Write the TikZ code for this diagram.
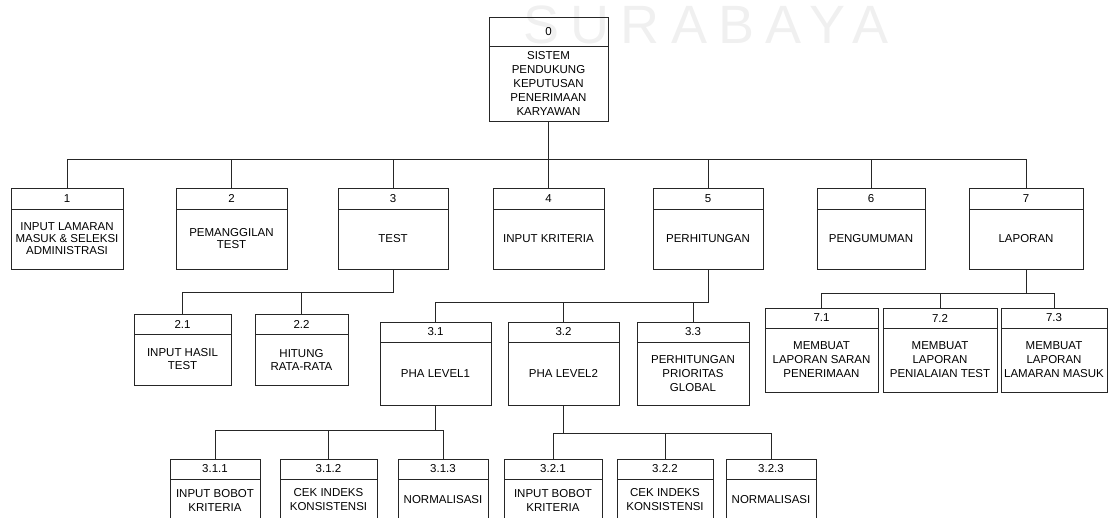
\documentclass[tikz,border=0pt]{standalone}
\usepackage{fontspec}
\setmainfont{Liberation Sans}
\usetikzlibrary{positioning}

\begin{document}
\begin{tikzpicture}[x=1pt,y=-1pt]

% --- Gaya ---
\tikzset{
    headBox/.style={
        draw=black!85,
        line width=0.9pt,
        minimum height=20pt,
        inner xsep=2pt,
        inner ysep=0pt,
        outer sep=0pt,
        font=\fontsize{11.5}{13}\selectfont
    },
    bodyBox/.style={
        headBox,
        align=center,
        font=\fontsize{11.5}{14}\selectfont
    },
    tightText/.style={
        font=\fontsize{11.5}{12}\selectfont
    },
    treeLink/.style={
        draw=black!85,
        line width=0.9pt
    },
    watermarkText/.style={
        anchor=base west,
        inner sep=0pt,
        text=gray!12,
        font=\fontsize{54}{54}\selectfont\addfontfeature{LetterSpace=21}
    }
}

\useasboundingbox (0,0) rectangle (1109,517);
\clip (0,0) rectangle (1109,517);

% Tanda air
\node[watermarkText] (wm) at (523,43) {SURABAYA};

% =========================================================
% Level 0
% =========================================================

\node[headBox, minimum width=119pt, minimum height=29pt] (h0) at (548.5,31.5) {0};
\node[bodyBox, minimum width=119pt, minimum height=75pt, below=0pt of h0,
      font=\fontsize{11.5}{14}\selectfont] (b0)
      {SISTEM\\PENDUKUNG\\KEPUTUSAN\\PENERIMAAN\\KARYAWAN};

% =========================================================
% Level 1
% =========================================================

\node[headBox, minimum width=112pt, minimum height=21pt] (h1) at (67,198.5) {1};
\node[bodyBox, tightText, minimum width=112pt, minimum height=60pt, below=0pt of h1] (b1)
      {INPUT LAMARAN\\MASUK \& SELEKSI\\ADMINISTRASI};

\node[headBox, minimum width=111pt, minimum height=21pt] (h2) at (231.5,198.5) {2};
\node[bodyBox, tightText, minimum width=111pt, minimum height=60pt, below=0pt of h2] (b2)
      {PEMANGGILAN\\TEST};

\node[headBox, minimum width=110pt, minimum height=21pt] (h3) at (393,198.5) {3};
\node[bodyBox, tightText, minimum width=110pt, minimum height=60pt, below=0pt of h3] (b3)
      {TEST};

\node[headBox, minimum width=111pt, minimum height=21pt] (h4) at (548.5,198.5) {4};
\node[bodyBox, tightText, minimum width=111pt, minimum height=60pt, below=0pt of h4] (b4)
      {INPUT KRITERIA};

\node[headBox, minimum width=110pt, minimum height=21pt] (h5) at (708,198.5) {5};
\node[bodyBox, tightText, minimum width=110pt, minimum height=60pt, below=0pt of h5] (b5)
      {PERHITUNGAN};

\node[headBox, minimum width=108pt, minimum height=21pt] (h6) at (871,198.5) {6};
\node[bodyBox, tightText, minimum width=108pt, minimum height=60pt, below=0pt of h6] (b6)
      {PENGUMUMAN};

\node[headBox, minimum width=114pt, minimum height=21pt] (h7) at (1026,198.5) {7};
\node[bodyBox, tightText, minimum width=114pt, minimum height=60pt, below=0pt of h7] (b7)
      {LAPORAN};

% =========================================================
% Level 2
% =========================================================

% Di bawah TEST
\node[headBox, minimum width=97pt] (h21) at (182.5,324) {2.1};
\node[bodyBox, minimum width=97pt, minimum height=51pt, below=0pt of h21,
      font=\fontsize{11.5}{13}\selectfont] (b21) {INPUT HASIL\\TEST};

\node[headBox, minimum width=93pt] (h22) at (301.5,324) {2.2};
\node[bodyBox, minimum width=93pt, minimum height=51pt, below=0pt of h22,
      font=\fontsize{11.5}{13}\selectfont] (b22) {HITUNG\\RATA-RATA};

% Di bawah PERHITUNGAN
\node[headBox, minimum width=111pt] (h31) at (435.5,332) {3.1};
\node[bodyBox, minimum width=111pt, minimum height=63pt, below=0pt of h31] (b31) {PHA LEVEL1};

\node[headBox, minimum width=111pt] (h32) at (563.5,332) {3.2};
\node[bodyBox, minimum width=111pt, minimum height=63pt, below=0pt of h32] (b32) {PHA LEVEL2};

\node[headBox, minimum width=112pt] (h33) at (693,332) {3.3};
\node[bodyBox, minimum width=112pt, minimum height=63pt, below=0pt of h33] (b33)
      {PERHITUNGAN\\PRIORITAS\\GLOBAL};

% Di bawah LAPORAN
\node[headBox, minimum width=113pt] (h71) at (821.5,318) {7.1};
\node[bodyBox, minimum width=113pt, minimum height=64pt, below=0pt of h71] (b71)
      {MEMBUAT\\LAPORAN SARAN\\PENERIMAAN};

\node[headBox, minimum width=114pt] (h72) at (940,318) {7.2};
\node[bodyBox, minimum width=114pt, minimum height=64pt, below=0pt of h72] (b72)
      {MEMBUAT\\LAPORAN\\PENIALAIAN TEST};

\node[headBox, minimum width=106pt] (h73) at (1054,318) {7.3};
\node[bodyBox, minimum width=106pt, minimum height=64pt, below=0pt of h73] (b73)
      {MEMBUAT\\LAPORAN\\LAMARAN MASUK};

% =========================================================
% Level 3
% =========================================================

\node[headBox, minimum width=90pt] (h311) at (215,469) {3.1.1};
\node[bodyBox, minimum width=90pt, minimum height=42pt, below=0pt of h311] (b311)
      {INPUT BOBOT\\KRITERIA};

\node[headBox, minimum width=97pt] (h312) at (328.5,469) {3.1.2};
\node[bodyBox, minimum width=97pt, minimum height=42pt, below=0pt of h312] (b312)
      {CEK INDEKS\\KONSISTENSI};

\node[headBox, minimum width=90pt] (h313) at (443,469) {3.1.3};
\node[bodyBox, minimum width=90pt, minimum height=42pt, below=0pt of h313] (b313)
      {NORMALISASI};

\node[headBox, minimum width=98pt] (h321) at (553,469) {3.2.1};
\node[bodyBox, minimum width=98pt, minimum height=42pt, below=0pt of h321] (b321)
      {INPUT BOBOT\\KRITERIA};

\node[headBox, minimum width=96pt] (h322) at (665,469) {3.2.2};
\node[bodyBox, minimum width=96pt, minimum height=42pt, below=0pt of h322] (b322)
      {CEK INDEKS\\KONSISTENSI};

\node[headBox, minimum width=90pt] (h323) at (771,469) {3.2.3};
\node[bodyBox, minimum width=90pt, minimum height=42pt, below=0pt of h323] (b323)
      {NORMALISASI};

% =========================================================
% Garis penghubung
% =========================================================

\foreach \child in {h1,h2,h3,h4,h5,h6,h7}
    \draw[treeLink] (b0.south) -- ++(0,38) -| (\child.north);

\foreach \child in {h21,h22}
    \draw[treeLink] (b3.south) -- ++(0,23.5) -| (\child.north);

\foreach \child in {h31,h32,h33}
    \draw[treeLink] (b5.south) -- ++(0,33) -| (\child.north);

\foreach \child in {h71,h72,h73}
    \draw[treeLink] (b7.south) -- ++(0,24) -| (\child.north);

\foreach \child in {h311,h312,h313}
    \draw[treeLink] (b31.south) -- ++(0,25) -| (\child.north);

\foreach \child in {h321,h322,h323}
    \draw[treeLink] (b32.south) -- ++(0,28) -| (\child.north);

\end{tikzpicture}
\end{document}
